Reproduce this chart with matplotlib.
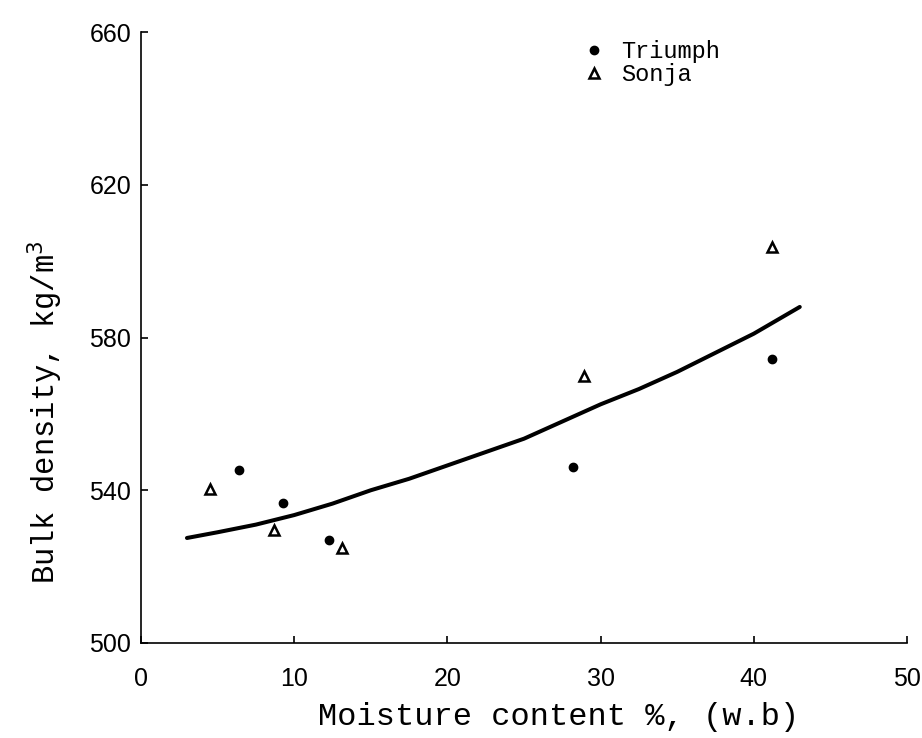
import numpy as np
import matplotlib
matplotlib.use("Agg")
from matplotlib import pyplot as plt

# 读取的数据点 (moisture content %, bulk density kg/m3)
triumph_x = [6.4, 9.3, 12.3, 28.2, 41.2]
triumph_y = [545.2, 536.7, 527.1, 546.0, 574.4]

sonja_x = [4.5, 8.7, 13.1, 28.9, 41.2]
sonja_y = [540.3, 529.7, 524.8, 570.0, 603.6]

# 回归曲线
curve_x = [3, 5, 7.5, 10, 12.5, 15, 17.5, 20, 22.5, 25, 27.5, 30, 32.5, 35, 37.5, 40, 43]
curve_y = [527.5, 529.0, 531.0, 533.5, 536.5, 540.0, 543.0, 546.5, 550.0, 553.5,
           558.0, 562.5, 566.5, 571.0, 576.0, 581.0, 588.0]

x_ticks = [0, 10, 20, 30, 40, 50]
y_ticks = [500, 540, 580, 620, 660]

mono = "Liberation Mono"
sans = "Liberation Sans"

fig = plt.figure(figsize=(9.22, 7.38), dpi=100)
ax = fig.add_axes([141 / 922, 1 - 643 / 738, (907 - 141) / 922, (643 - 32) / 738])

ax.plot(curve_x, curve_y, color="black", lw=2.9, solid_capstyle="round", solid_joinstyle="round")
ax.plot(triumph_x, triumph_y, "o", color="black", ms=6, ls="none", label="Triumph")
ax.plot(sonja_x, sonja_y, "^", mfc="white", mec="black", mew=1.8, ms=6.5, ls="none", label="Sonja")

ax.set_xlim(0, 50)
ax.set_ylim(500, 660)
ax.set_xticks(x_ticks)
ax.set_yticks(y_ticks)

for s in ["top", "right"]:
    ax.spines[s].set_visible(False)
for s in ["left", "bottom"]:
    ax.spines[s].set_linewidth(1.2)

ax.tick_params(direction="in", length=5, width=1.2, labelsize=18)
ax.tick_params(axis="x", pad=17)
ax.tick_params(axis="y", pad=7)
for lab in ax.get_xticklabels() + ax.get_yticklabels():
    lab.set_fontfamily(sans)

ax.set_xlabel("Moisture content %, (w.b)", fontfamily=mono, fontsize=23)
ax.set_ylabel("Bulk density, kg/m$^3$", fontfamily=mono, fontsize=22)
ax.xaxis.set_label_coords((559 - 141) / 766, -(717 - 643) / 611)
ax.yaxis.set_label_coords((45 - 141) / 766, (643 - 412) / 611)
ax.xaxis.label.set_va("center")
ax.yaxis.label.set_va("center")

leg = ax.legend(loc="upper left", bbox_to_anchor=(566 / 922, 1 - 19 / 738),
                bbox_transform=fig.transFigure, frameon=False,
                handlelength=0.6, handletextpad=0.85, labelspacing=0.0,
                prop={"family": mono, "size": 17})

fig.savefig("out.png", dpi=100)
